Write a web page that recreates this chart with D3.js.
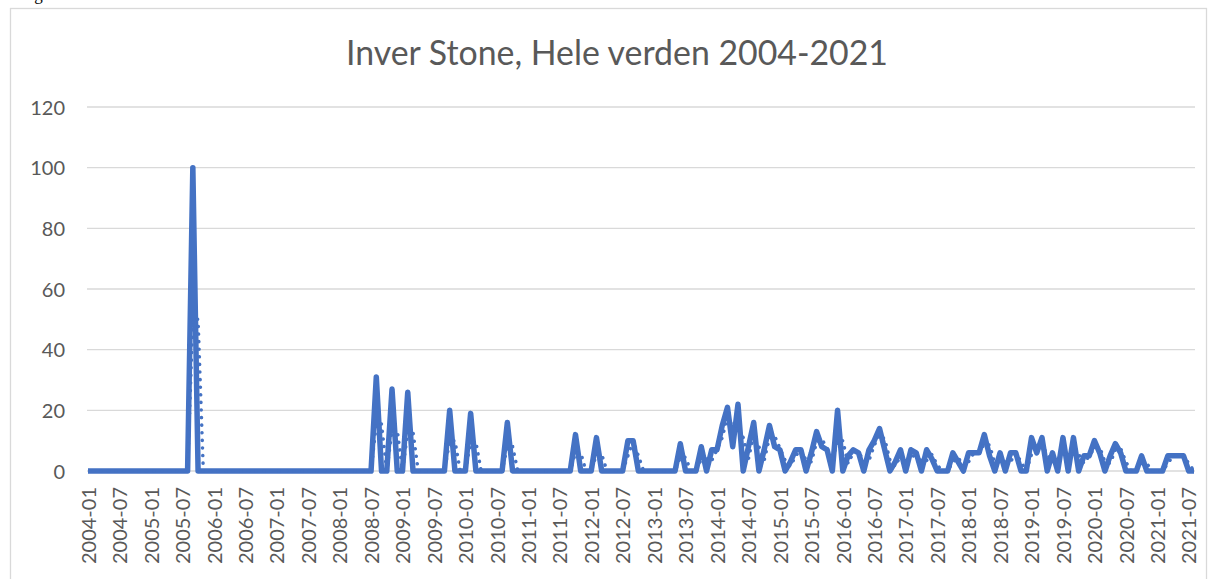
<!DOCTYPE html>
<html>
<head>
<meta charset="utf-8">
<script src="https://cdn.jsdelivr.net/npm/d3@7"></script>
<style>
  body { margin: 0; background: #fff; }
  text { font-family: Lato, "Noto Sans", sans-serif; fill: #595959; }
</style>
</head>
<body>
<div id="root"></div>
<script>
const title = "Inver Stone, Hele verden 2004-2021";

// monthly categories 2004-01 .. 2021-08
const firstMonth = new Date(2004, 0, 1),
    lastMonth = new Date(2021, 7, 1);

// search interest, one row per year
const values = [
    0, 0, 0, 0, 0, 0, 0, 0, 0, 0, 0, 0,          // 2004
    0, 0, 0, 0, 0, 0, 0, 0, 100, 0, 0, 0,        // 2005
    0, 0, 0, 0, 0, 0, 0, 0, 0, 0, 0, 0,          // 2006
    0, 0, 0, 0, 0, 0, 0, 0, 0, 0, 0, 0,          // 2007
    0, 0, 0, 0, 0, 0, 0, 31, 0, 0, 27, 0,        // 2008
    0, 26, 0, 0, 0, 0, 0, 0, 0, 20, 0, 0,        // 2009
    0, 19, 0, 0, 0, 0, 0, 0, 16, 0, 0, 0,        // 2010
    0, 0, 0, 0, 0, 0, 0, 0, 0, 12, 0, 0,         // 2011
    0, 11, 0, 0, 0, 0, 0, 10, 10, 0, 0, 0,       // 2012
    0, 0, 0, 0, 0, 9, 0, 0, 0, 8, 0, 7,          // 2013
    7, 15, 21, 8, 22, 0, 8, 16, 0, 7, 15, 8,     // 2014
    7, 0, 3, 7, 7, 0, 6, 13, 8, 7, 0, 20,        // 2015
    0, 5, 7, 6, 0, 7, 10, 14, 7, 0, 3, 7,        // 2016
    0, 7, 6, 0, 7, 4, 0, 0, 0, 6, 3, 0,          // 2017
    6, 6, 6, 12, 5, 0, 6, 0, 6, 6, 0, 0,         // 2018
    11, 6, 11, 0, 6, 0, 11, 0, 11, 0, 5, 5,      // 2019
    10, 6, 0, 5, 9, 6, 0, 0, 0, 5, 0, 0,         // 2020
    0, 0, 5, 5, 5, 5, 0, 0                       // 2021
];

const yTicks = [0, 20, 40, 60, 80, 100, 120];

const tickLabels = [
    "2004-01", "2004-07", "2005-01", "2005-07", "2006-01", "2006-07",
    "2007-01", "2007-07", "2008-01", "2008-07", "2009-01", "2009-07",
    "2010-01", "2010-07", "2011-01", "2011-07", "2012-01", "2012-07",
    "2013-01", "2013-07", "2014-01", "2014-07", "2015-01", "2015-07",
    "2016-01", "2016-07", "2017-01", "2017-07", "2018-01", "2018-07",
    "2019-01", "2019-07", "2020-01", "2020-07", "2021-01", "2021-07"
];

const fmt = d3.timeFormat("%Y-%m");
const months = d3.timeMonths(firstMonth, d3.timeMonth.offset(lastMonth, 1)).map(fmt);
const data = months.map((m, i) => ({ month: m, value: values[i] }));

// 2-period moving average trendline
const trend = data.slice(1).map((d, i) => ({ month: d.month, value: (data[i].value + d.value) / 2 }));

const width = 1209,
    height = 579;
const plotLeft = 88, plotRight = 1194, plotTop = 107, plotBottom = 471;
const blue = "#4472c4";

const svg = d3.select("#root").append("svg")
    .attr("width", width)
    .attr("height", height);

// caption above the chart, mostly outside the page
svg.append("text")
    .attr("x", 20)
    .attr("y", 0)
    .style("font-family", "Liberation Serif, serif")
    .style("font-size", "17px")
    .style("fill", "#000")
    .text("Figur 6");

// chart frame
svg.append("rect")
    .attr("x", 10.5)
    .attr("y", 8.5)
    .attr("width", 1196)
    .attr("height", 620)
    .attr("fill", "#fff")
    .attr("stroke", "#d9d9d9")
    .attr("stroke-width", 1.3);

const x = d3.scalePoint()
    .domain(months)
    .range([plotLeft, plotRight]);

const y = d3.scaleLinear()
    .domain([0, 120])
    .range([plotBottom, plotTop]);

// horizontal gridlines
svg.append("g")
    .selectAll("line")
    .data(yTicks)
    .enter()
    .append("line")
    .attr("x1", plotLeft - 1)
    .attr("x2", plotRight + 1)
    .attr("y1", d => y(d))
    .attr("y2", d => y(d))
    .attr("stroke", "#d9d9d9")
    .attr("stroke-width", 1.4);

// y labels
const yAxis = d3.axisLeft(y).tickValues(yTicks).tickSize(0).tickPadding(0);
const gy = svg.append("g")
    .attr("transform", "translate(65,0)")
    .call(yAxis);
gy.select(".domain").remove();
gy.selectAll("text")
    .style("font-family", "Lato, sans-serif")
    .style("font-size", "20px")
    .style("fill", "#595959")
    .attr("dy", "0.36em");

// x labels, rotated
const xAxis = d3.axisBottom(x).tickValues(tickLabels).tickSize(0).tickPadding(0);
const gx = svg.append("g")
    .attr("transform", "translate(0," + (plotBottom + 16) + ")")
    .call(xAxis);
gx.select(".domain").remove();
gx.selectAll("text")
    .style("font-family", "Lato, sans-serif")
    .style("font-size", "20px")
    .style("fill", "#595959")
    .attr("text-anchor", "end")
    .attr("transform", "rotate(-90)")
    .attr("x", 0)
    .attr("y", 0)
    .attr("dy", "0.36em");

// data line
const line = d3.line()
    .x(d => x(d.month))
    .y(d => y(d.value));

svg.append("path")
    .datum(data)
    .attr("fill", "none")
    .attr("stroke", blue)
    .attr("stroke-width", 5.5)
    .attr("stroke-linejoin", "round")
    .attr("d", line);

// moving average, round dots
svg.append("path")
    .datum(trend)
    .attr("fill", "none")
    .attr("stroke", blue)
    .attr("stroke-width", 3.5)
    .attr("stroke-linecap", "round")
    .attr("stroke-dasharray", "0.1 7.5")
    .attr("d", line);

// title, sized to the original width
const t = svg.append("text")
    .attr("x", 617)
    .attr("y", 65)
    .attr("text-anchor", "middle")
    .style("font-family", "Lato, sans-serif")
    .style("font-size", "34px")
    .style("fill", "#595959")
    .text(title);
const tw = t.node().getComputedTextLength();
t.style("font-size", (34 * 542 / tw) + "px");
</script>
</body>
</html>
